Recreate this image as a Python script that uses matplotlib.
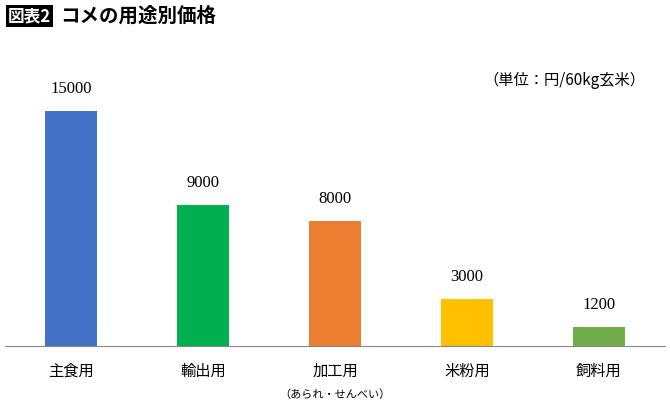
import matplotlib
matplotlib.use("Agg")
import matplotlib.pyplot as plt

plt.rcParams['font.family'] = ['Noto Sans CJK JP', 'DejaVu Sans']

categories = ["主食用", "輸出用", "加工用", "米粉用", "飼料用"]
values = [15000, 9000, 8000, 3000, 1200]
colors = ["#4472C4", "#00B050", "#ED7D31", "#FFC000", "#70AD47"]

W, H = 670, 412
fig = plt.figure(figsize=(W/100, H/100), dpi=100)
ax = fig.add_axes([5/W, 1-346/H, 660/W, 266/H])
x = range(len(categories))
ax.bar(x, values, width=0.4, color=colors)
ax.set_xlim(-0.5, 4.5)
ax.set_ylim(0, 17000)
for i, v in zip(x, values):
    ax.text(i, v + 900, str(v), ha='center', va='bottom', fontsize=12, family=['Liberation Serif'])
ax.set_yticks([])
ax.set_xticks(list(x))
ax.set_xticklabels(categories, fontsize=11)
ax.tick_params(axis='x', length=0, pad=12)
for s in ['top', 'right', 'left']:
    ax.spines[s].set_visible(False)
ax.spines['bottom'].set_color('#888888')
fig.text(335/W, 1-395/H, "（あられ・せんべい）", ha='center', va='center', fontsize=8)
fig.text(645/W, 1-80/H, "（単位：円/60kg玄米）", ha='right', va='center', fontsize=11)
fig.text(8/W, 1-16/H, "図表2", ha='left', va='center', fontsize=12, color='white', fontweight='bold',
         bbox=dict(facecolor='black', edgecolor='none', pad=1.5))
fig.text(60/W, 1-16/H, "コメの用途別価格", ha='left', va='center', fontsize=14, fontweight='bold')
fig.savefig("out.png", dpi=100)
